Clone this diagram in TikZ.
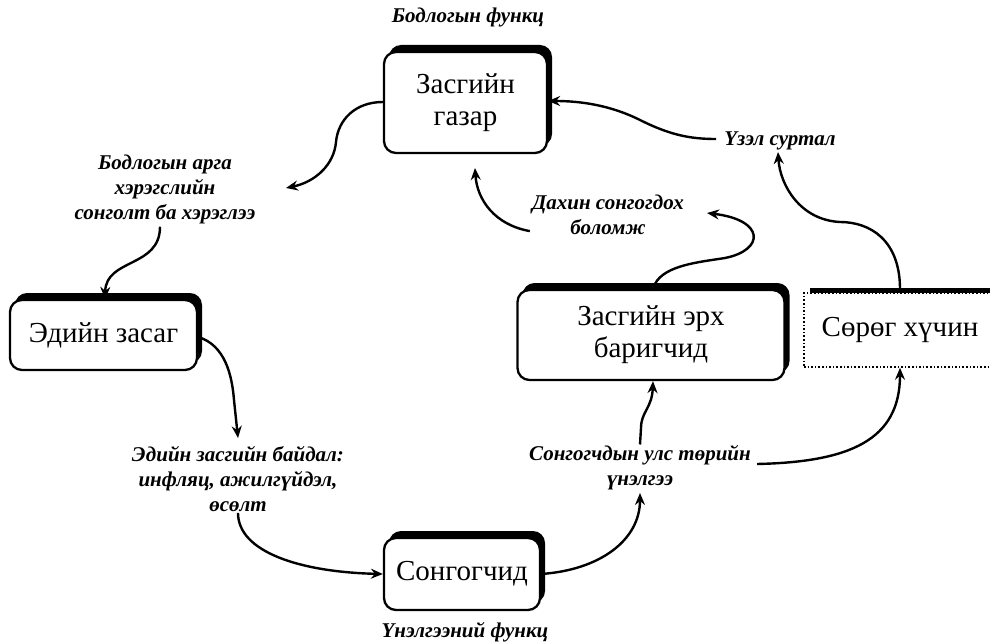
\documentclass[tikz,border=0pt]{standalone}
\usepackage{fontspec}
\setmainfont{Liberation Serif}
\usetikzlibrary{shadows,arrows.meta}
\begin{document}
\begin{tikzpicture}[x=1pt,y=-1pt,
  box/.style={draw, line width=2.3pt, rounded corners=12pt, fill=white,
    general shadow={fill=black, shadow xshift=5pt, shadow yshift=7pt},
    font=\fontsize{29}{32}\selectfont, align=center, inner sep=0pt},
  dotbox/.style={draw, dotted, line width=1.6pt, fill=white,
    general shadow={fill=black, shadow xshift=6pt, shadow yshift=5pt},
    font=\fontsize{29}{32}\selectfont, align=center, inner sep=0pt},
  lbl/.style={font=\fontsize{21}{25}\selectfont\bfseries\itshape, align=center, inner sep=0pt},
  arr/.style={line width=2.4pt, -{Stealth[length=12pt,width=10pt,inset=4pt]}}]
\useasboundingbox (0,0) rectangle (990,644);

% boxes
\node[box, minimum width=163pt, minimum height=101pt] (gazar) at (465.5,102.5) {Засгийн\\газар};
\node[box, minimum width=187pt, minimum height=70pt] (edein) at (103.5,335) {Эдийн засаг};
\node[box, minimum width=267pt, minimum height=90pt] (erkh) at (651,335) {Засгийн эрх\\баригчид};
\node[dotbox, minimum width=192pt, minimum height=74pt] (sorog) at (900,330) {Сөрөг хүчин};
\node[box, minimum width=156pt, minimum height=72pt] (song) at (462,574) {Сонгогчид};

% labels
\node[lbl] (fBod) at (468,17) {Бодлогын функц};
\node[lbl] (arga) at (165,189) {Бодлогын арга\\хэрэгслийн\\сонголт ба хэрэглээ};
\node[lbl] (uzel) at (780,141) {Үзэл суртал};
\node[lbl] (dahin) at (608,215) {Дахин сонгогдох\\боломж};
\node[lbl] (baidal) at (238,479) {Эдийн засгийн байдал:\\инфляц, ажилгүйдэл,\\өсөлт};
\node[lbl] (unelgee) at (640,468) {Сонгогчдын улс төрийн\\үнэлгээ};
\node[lbl] (fUn) at (465,632) {Үнэлгээний функц};

% free ends
\coordinate (t1) at (286,188);
\coordinate (t3) at (238,438);
\coordinate (t5) at (640,493);
\coordinate (t8) at (778,152);
\coordinate (t10) at (707,213);
\coordinate (t11) at (475,168);

% connectors
\draw[arr] (gazar.west |- 0,102) .. controls (355,102) and (338,120) .. (336,142)
   .. controls (334,165) and (315,182) .. (t1);
\draw[arr] (arga.south -| 160,0) ++(0,3) .. controls (160,268) and (106,258) .. (edein.north -| 105,0);
\draw[arr] (edein.east |- 0,337) .. controls (225,345) and (232,375) .. (234,400) -- (t3);
\draw[arr] (baidal.south) ++(0,1) .. controls (238,552) and (300,572) .. (song.west);
\draw[arr] (song.east) .. controls (600,570) and (640,540) .. (t5);
\draw[arr] (unelgee.north) ++(0,-1) -- (641,428) .. controls (641,412) and (652,408) .. (erkh.south -| 653,0);
\draw[arr] (unelgee.east |- 0,464) ++(6,0) .. controls (850,462) and (900,440) .. (sorog.south);
\draw[arr] (sorog.north) ++(0,-3) .. controls (900,240) and (870,222) .. (840,222)
   .. controls (800,220) and (780,185) .. (t8);
\draw[arr] (uzel.west) ++(-8,-2) .. controls (690,139) and (670,135) .. (640,120)
   .. controls (610,105) and (580,101) .. (gazar.east |- 0,101);
\draw[arr] (erkh.north -| 655,0) ++(0,-5) .. controls (665,265) and (700,262) .. (725,258)
   .. controls (765,250) and (765,220) .. (t10);
\draw[arr] (dahin.south west) ++(-2,-4) .. controls (495,225) and (477,200) .. (t11);
\end{tikzpicture}
\end{document}
